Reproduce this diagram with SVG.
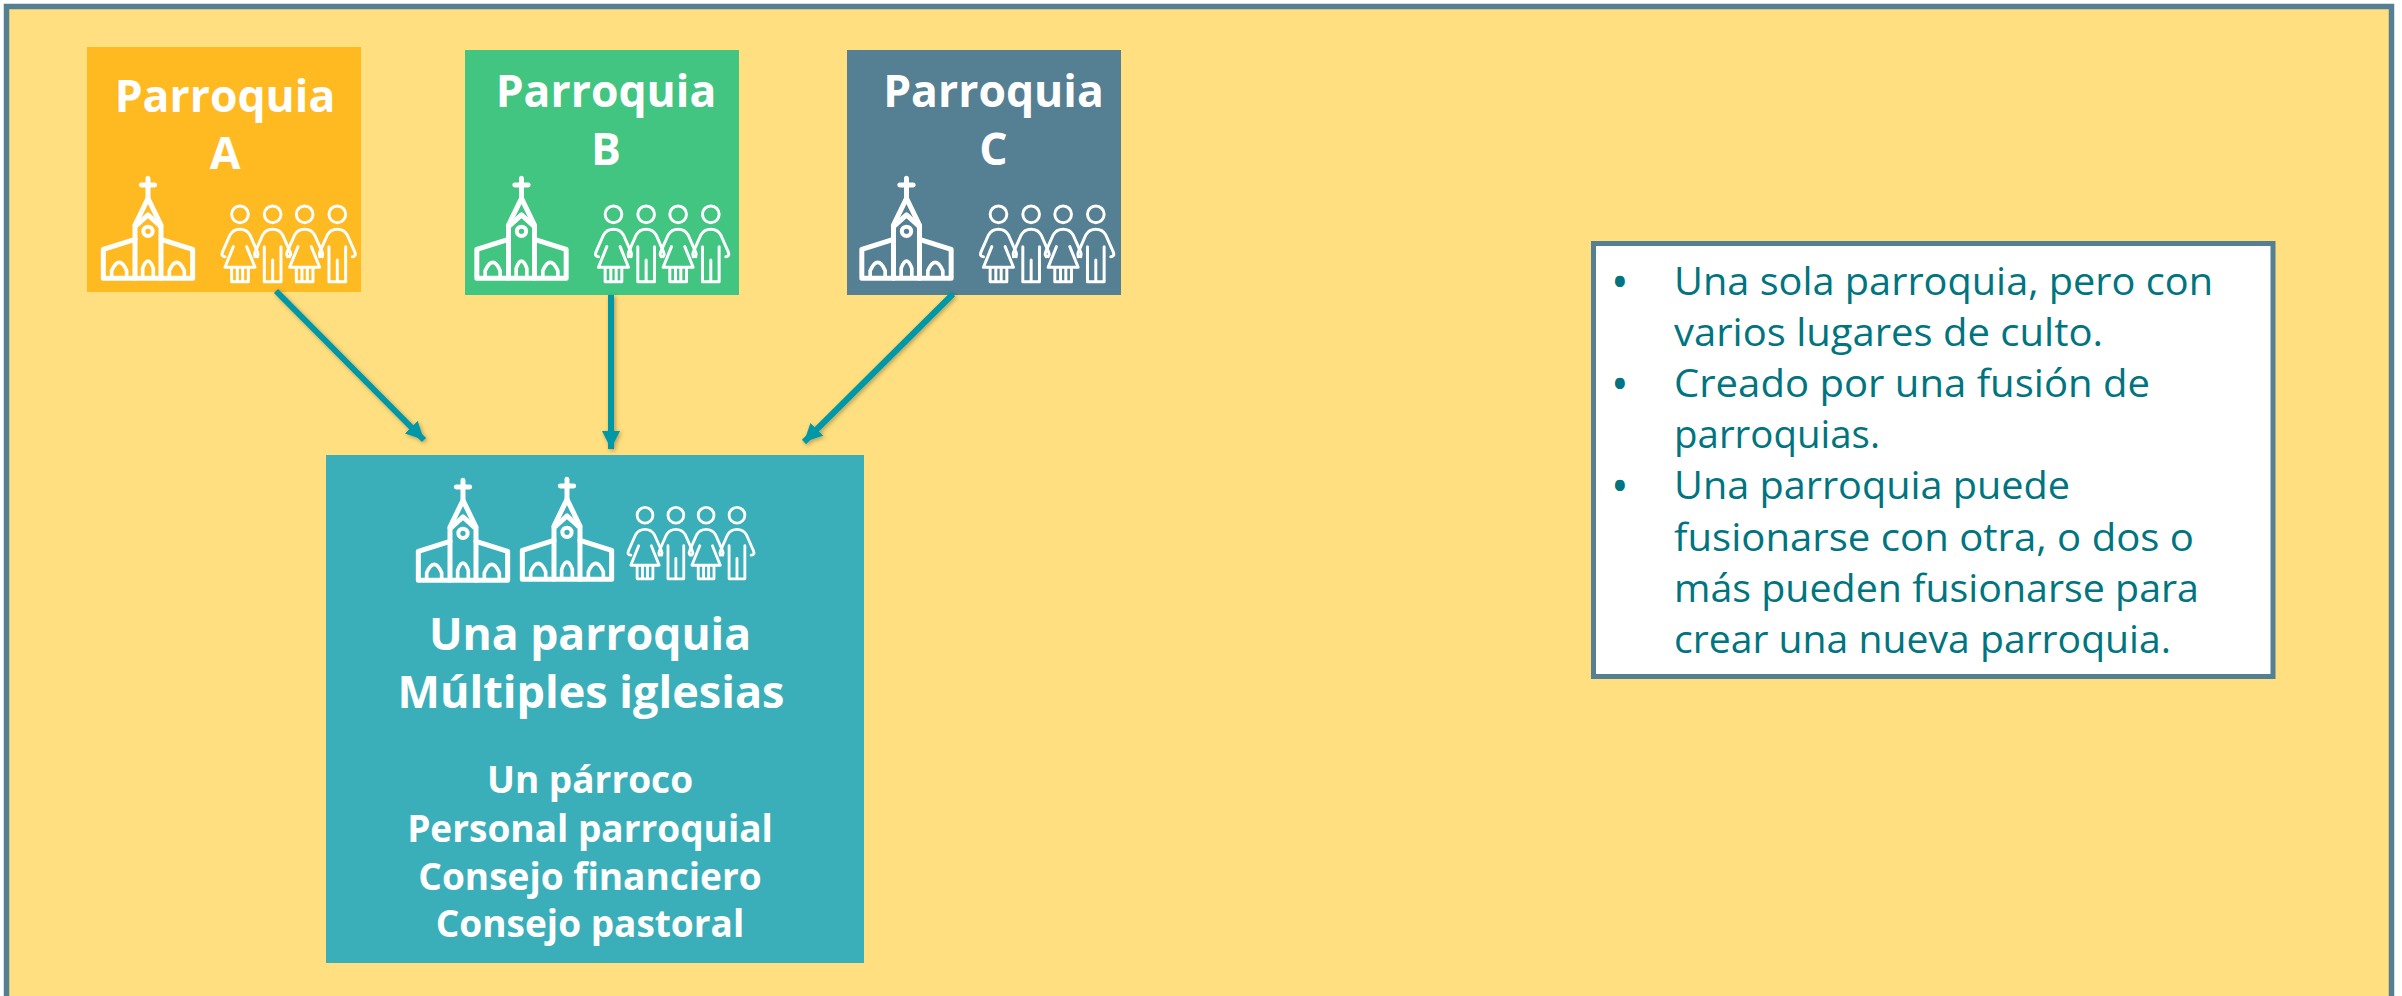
<svg xmlns="http://www.w3.org/2000/svg" width="2402" height="996" viewBox="0 0 2402 996">
<style>
.t{font-family:"Open Sans","Noto Sans","Liberation Sans",sans-serif;font-weight:700;fill:#fff;text-anchor:middle}
.h{font-size:44.500px}.m{font-size:44.500px}.s{font-size:37px}.m2{font-size:45px}
.b{font-family:"Open Sans","Noto Sans","Liberation Sans",sans-serif;font-size:39px;fill:#00747f}
.d{font-family:"Open Sans","Noto Sans","Liberation Sans",sans-serif;font-size:47px;fill:#00747f}
.c{fill:none;stroke:#fff;stroke-linejoin:round;stroke-linecap:round}
.a{fill:none;stroke:#0097a7;stroke-width:6}
</style>
<defs>
<filter id="sh" x="-20%" y="-20%" width="150%" height="150%"><feDropShadow dx="1.500" dy="1.500" stdDeviation="2" flood-color="#000" flood-opacity="0.3"/></filter>
<marker id="ah" markerUnits="userSpaceOnUse" markerWidth="22" markerHeight="22" refX="18" refY="9" orient="auto"><path d="M0 0L18 9L0 18Z" fill="#0097a7"/></marker>
<g id="church" class="c" stroke-width="15">
<path d="M234 445V505M214 465H254"/>
<path d="M195 585L234 505L273 585"/>
<path d="M195 590L234 555L273 590V745M195 590V745"/>
<circle cx="234" cy="604" r="14" stroke-width="12"/>
<path d="M195 628L100 658V745H368V658L273 628"/>
<path stroke-width="11" d="M218 740V715Q234 672 250 715V740M125 740V722Q148 672 170 722V740M298 740V722Q320 672 343 722V740"/>
</g>
<g id="f" class="c" stroke-width="9">
<circle cx="0" cy="553" r="25"/>
<path d="M-45 680Q-58 680-52 665L-30 615Q-20 598 0 598Q20 598 30 615L52 665Q58 680 45 680"/>
<path d="M-20 650L-45 712H45L20 650M-25 712V755H25V712M-8 712V755M8 712V755"/>
</g>
<g id="p" class="c" stroke-width="9">
<circle cx="0" cy="553" r="25"/>
<path d="M-45 680Q-58 680-52 665L-30 615Q-20 598 0 598Q20 598 30 615L52 665Q58 680 45 680"/>
<path d="M-25 650V755H25V650M0 690V755"/>
</g>
<g id="people">
<use href="#f" x="0"/><use href="#p" x="98"/><use href="#f" x="194"/><use href="#p" x="292"/>
</g>
</defs>
<rect x="0" y="0" width="2402" height="996" fill="#fff"/>
<rect id="bg" x="6.500" y="6.500" width="2385" height="1000" fill="#ffdf7f" stroke="#557f93" stroke-width="5.500"/>
<g id="parroquia-a">
<rect x="87" y="47" width="274" height="245" fill="#ffb921"/>
<text class="t h" x="225" y="112">Parroquia</text><text class="t h" x="225" y="169">A</text>
<g transform="translate(70 30) scale(.3333)"><use href="#church"/><use href="#people" x="510"/></g>
</g>
<g id="parroquia-b">
<rect x="465" y="50" width="274" height="245" fill="#41c580"/>
<text class="t h" x="606" y="107">Parroquia</text><text class="t h" x="606" y="165">B</text>
<g transform="translate(443.500 30) scale(.3333)"><use href="#church"/><use href="#people" x="510"/></g>
</g>
<g id="parroquia-c">
<rect x="847" y="50" width="274" height="245" fill="#557f93"/>
<text class="t h" x="993.500" y="107">Parroquia</text><text class="t h" x="993.500" y="165">C</text>
<g transform="translate(828.500 30) scale(.3333)"><use href="#church"/><use href="#people" x="510"/></g>
</g>
<g id="una-parroquia">
<rect x="326" y="455" width="538" height="508" fill="#3aafb9"/>
<g transform="translate(385 332) scale(.3333)"><use href="#church"/></g>
<g transform="translate(489 331) scale(.3333)"><use href="#church"/></g>
<g transform="translate(645 341) scale(.315)"><use href="#people"/></g>
<text class="t m" x="590" y="650">Una parroquia</text>
<text class="t m2" x="591" y="708">Múltiples iglesias</text>
<text class="t s" x="590" y="793">Un párroco</text>
<text class="t s" x="590" y="842">Personal parroquial</text>
<text class="t s" x="590" y="890">Consejo financiero</text>
<text class="t s" x="590" y="937">Consejo pastoral</text>
</g>
<g id="nota">
<rect x="1593.500" y="243.500" width="679.500" height="433" fill="#fff" stroke="#557f93" stroke-width="5"/>
<text class="d" x="1611" y="299">•</text><text class="b" x="1674" y="295" textLength="539" lengthAdjust="spacingAndGlyphs">Una sola parroquia, pero con</text>
<text class="b" x="1674" y="346" textLength="429" lengthAdjust="spacingAndGlyphs">varios lugares de culto.</text>
<text class="d" x="1611" y="401">•</text><text class="b" x="1674" y="397" textLength="476" lengthAdjust="spacingAndGlyphs">Creado por una fusión de</text>
<text class="b" x="1674" y="448" textLength="206" lengthAdjust="spacingAndGlyphs">parroquias.</text>
<text class="d" x="1611" y="503">•</text><text class="b" x="1674" y="499" textLength="396" lengthAdjust="spacingAndGlyphs">Una parroquia puede</text>
<text class="b" x="1674" y="551" textLength="520" lengthAdjust="spacingAndGlyphs">fusionarse con otra, o dos o</text>
<text class="b" x="1674" y="602" textLength="525" lengthAdjust="spacingAndGlyphs">más pueden fusionarse para</text>
<text class="b" x="1674" y="653" textLength="497" lengthAdjust="spacingAndGlyphs">crear una nueva parroquia.</text>
</g>
<g id="connectors" filter="url(#sh)">
<path class="a" d="M276 291L424 440" marker-end="url(#ah)"/>
<path class="a" d="M611 295V449" marker-end="url(#ah)"/>
<path class="a" d="M953 294L804 442" marker-end="url(#ah)"/>
</g>
</svg>
